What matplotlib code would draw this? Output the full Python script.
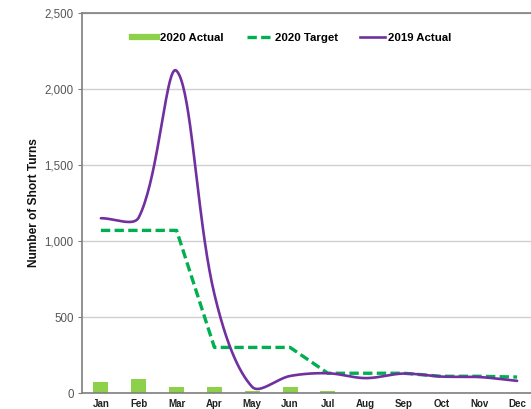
import numpy as np
import matplotlib
matplotlib.use("Agg")
import matplotlib.pyplot as plt
from matplotlib.lines import Line2D
from matplotlib.ticker import FuncFormatter, MultipleLocator

plt.rcParams["font.family"] = ["Liberation Sans", "DejaVu Sans"]

months = ["Jan", "Feb", "Mar", "Apr", "May", "Jun",
          "Jul", "Aug", "Sep", "Oct", "Nov", "Dec"]
actual_2020 = [75, 92, 40, 38, 12, 40, 10, 0, 0, 0, 0, 0]
target_2020 = [1070, 1070, 1070, 300, 300, 300, 130, 130, 130, 110, 110, 105]
actual_2019 = [1150, 1155, 2120, 650, 40, 112, 130, 98, 128, 108, 105, 80]

BAR_GREEN = "#8DD04A"
TARGET_GREEN = "#00B050"
PURPLE = "#7030A0"


def smooth_curve(xs, ys, sx, sy, n=40):
    """Bezier smoothing in the style of spreadsheet 'smoothed lines'.

    sx, sy convert data units to screen units so the control-arm
    lengths follow the on-screen segment lengths.
    """
    xs = np.asarray(xs, float)
    ys = np.asarray(ys, float)
    px = xs * sx
    py = ys * sy
    m = len(xs)
    out_x, out_y = [], []
    for i in range(m - 1):
        i0 = max(i - 1, 0)
        i3 = min(i + 2, m - 1)
        p0 = np.array([px[i0], py[i0]])
        p1 = np.array([px[i], py[i]])
        p2 = np.array([px[i + 1], py[i + 1]])
        p3 = np.array([px[i3], py[i3]])
        d01 = np.hypot(*(p1 - p0))
        d12 = np.hypot(*(p2 - p1))
        d23 = np.hypot(*(p3 - p2))
        f1 = d12 / (d01 + d12) if d01 + d12 > 0 else 0.5
        f2 = d12 / (d12 + d23) if d12 + d23 > 0 else 0.5
        c1 = p1 + (p2 - p0) * f1 / 3.0
        c2 = p2 - (p3 - p1) * f2 / 3.0
        t = np.linspace(0, 1, n)[:, None]
        seg = ((1 - t) ** 3) * p1 + 3 * ((1 - t) ** 2) * t * c1 \
            + 3 * (1 - t) * t ** 2 * c2 + t ** 3 * p2
        if i > 0:
            seg = seg[1:]
        out_x.extend(seg[:, 0] / sx)
        out_y.extend(seg[:, 1] / sy)
    return np.array(out_x), np.array(out_y)


fig = plt.figure(figsize=(5.31, 4.09), dpi=100)
ax = fig.add_axes([0.1544, 0.0391, 0.855, 0.929])

x = np.arange(len(months))
px_per_month = 37.8
px_per_unit = 76.0 / 500.0

ax.bar(x, actual_2020, width=0.4, color=BAR_GREEN, zorder=2)

ax.plot(x, target_2020, color=TARGET_GREEN, lw=2.4, linestyle=(0, (2.8, 1.3)),
        dash_capstyle="butt", dash_joinstyle="round", zorder=3)

px_, py_ = smooth_curve(x, actual_2019, px_per_month, px_per_unit)
ax.plot(px_, py_, color=PURPLE, lw=1.9, zorder=4, solid_capstyle="round")

ax.set_xlim(-0.5, 11.5)
ax.set_ylim(0, 2500)
ax.yaxis.set_major_locator(MultipleLocator(500))
ax.yaxis.set_major_formatter(FuncFormatter(lambda v, p: f"{int(v):,}"))
ax.set_xticks(x)
ax.set_xticklabels(months, fontsize=7, fontweight="bold", color="#222222")
ax.tick_params(axis="x", length=0, pad=4)
ax.tick_params(axis="y", length=3, width=0.8, color="#7F7F7F",
               labelsize=8.3, labelcolor="#555555", pad=3)

ax.grid(axis="y", color="#D0D0D0", lw=1.0, zorder=0)
ax.set_axisbelow(True)
for side in ["left", "bottom", "top"]:
    ax.spines[side].set_color("#7F7F7F")
    ax.spines[side].set_linewidth(1.2)
ax.spines["right"].set_visible(False)

ax.set_ylabel("Number of Short Turns", fontsize=8.6, fontweight="bold",
              color="#111111", labelpad=3)

handles = [
    Line2D([0], [0], color=BAR_GREEN, lw=4.5),
    Line2D([0], [0], color=TARGET_GREEN, lw=2.4, linestyle=(0, (2.8, 1.3))),
    Line2D([0], [0], color=PURPLE, lw=1.9),
]
labels = ["2020 Actual", "2020 Target", "2019 Actual"]
fig.legend(handles, labels, loc="center", bbox_to_anchor=(292 / 531, 1 - 38 / 409),
           ncol=3, frameon=False, prop={"weight": "bold", "size": 8.2},
           handlelength=2.2, handletextpad=0.25, columnspacing=2.0)

fig.savefig("out.png", dpi=100)
